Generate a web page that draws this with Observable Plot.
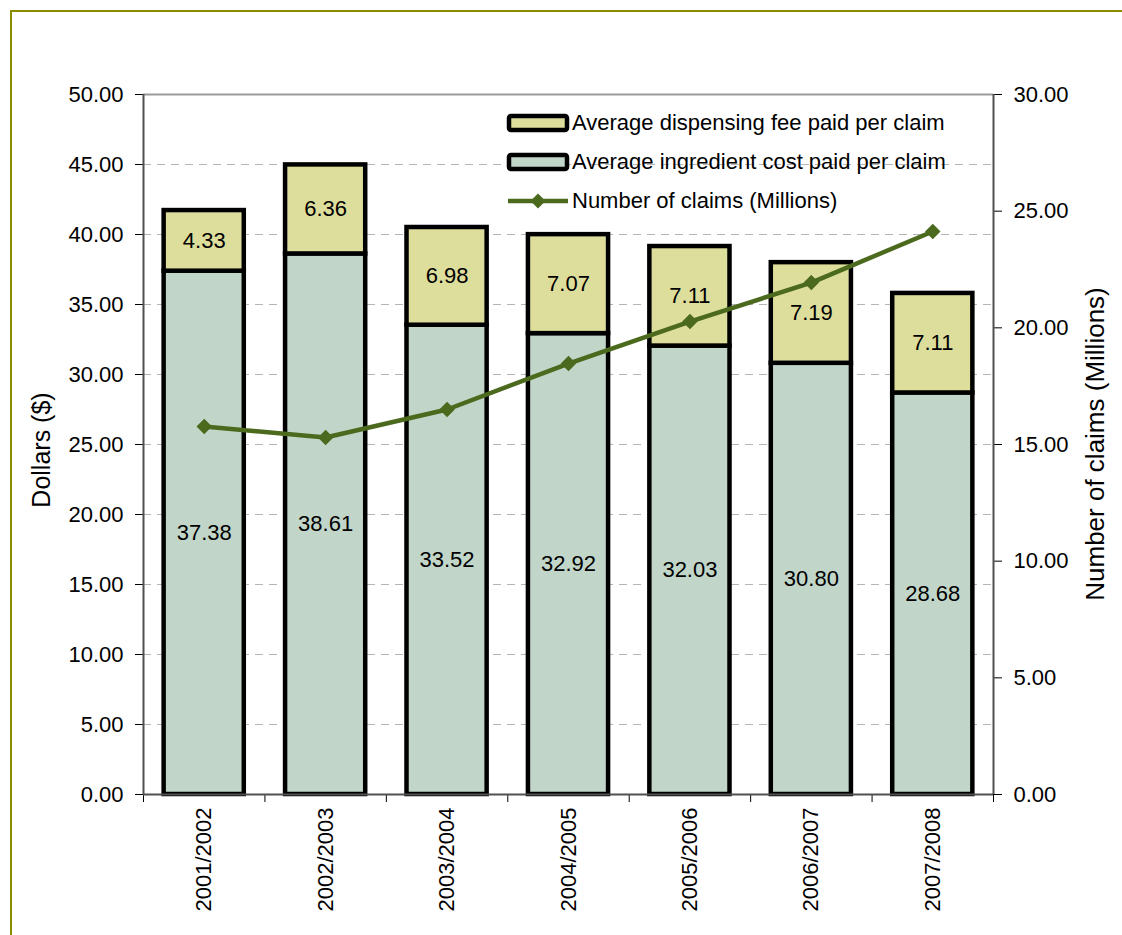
<!DOCTYPE html>
<html><head><meta charset="utf-8">
<script src="https://cdn.jsdelivr.net/npm/d3@7"></script>
<script src="https://cdn.jsdelivr.net/npm/@observablehq/plot@0.6"></script>
<style>
body{margin:0;background:#fff;font-family:"Liberation Sans",Arial,sans-serif;}
#wrap{position:relative;width:1122px;height:935px;overflow:hidden;}
#frame{position:absolute;left:10px;top:10px;width:1300px;height:1100px;border-left:2px solid #8C8C00;border-top:2px solid #8C8C00;pointer-events:none;}
#chart{position:absolute;left:0;top:0;}
#legend{position:absolute;left:506px;top:103px;font-size:22px;color:#000;}
.row{display:flex;align-items:center;height:39px;}
.row svg{margin-right:2px;}
.title{position:absolute;white-space:nowrap;transform:translate(-50%,-50%) rotate(-90deg);color:#000;line-height:1;}
</style>
</head><body>
<div id="wrap"><div id="frame"></div><div id="chart"></div><div id="legend"></div>
<div class="title" id="ytitle" style="left:41px;top:450px;font-size:25px;"></div>
<div class="title" id="y2title" style="left:1095px;top:444px;font-size:26px;"></div>
</div>
<script>
const years = ["2001/2002","2002/2003","2003/2004","2004/2005","2005/2006","2006/2007","2007/2008"];
const ingredient = [37.38,38.61,33.52,32.92,32.03,30.80,28.68];
const fee = [4.33,6.36,6.98,7.07,7.11,7.19,7.11];
const claims = [15.77,15.30,16.50,18.47,20.27,21.94,24.13];
const leftTicks = [0,5,10,15,20,25,30,35,40,45,50];
const rightTicks = [0,5,10,15,20,25,30];
const seriesNames = ["Average dispensing fee paid per claim","Average ingredient cost paid per claim","Number of claims (Millions)"];
const yTitle = "Dollars ($)";
const y2Title = "Number of claims (Millions)";

const feeColor = "#DEDE9C", ingColor = "#C1D6C9", lineColor = "#4B6A1E";
const ratio = 50/30;
const half = 0.33;

const segs = years.flatMap((yr,i)=>[
  {i, series:"ingredient", y1:0, y2:ingredient[i], v:ingredient[i]},
  {i, series:"fee", y1:ingredient[i], y2:ingredient[i]+fee[i], v:fee[i]}
]);
const pts = claims.map((c,i)=>({i, c}));

const chart = Plot.plot({
  width:1122, height:935,
  marginLeft:143, marginRight:129, marginTop:94, marginBottom:141,
  x:{type:"linear", domain:[-0.5,6.5]},
  y:{domain:[0,50]},
  style:{fontFamily:"Liberation Sans, Arial, sans-serif", fontSize:"22px", color:"#000", background:"transparent", overflow:"visible"},
  marks:[
    Plot.ruleY(leftTicks.filter(d=>d>0&&d<50), {stroke:"#b5b5b5", strokeDasharray:"8,6", strokeWidth:1}),
    Plot.ruleY([50], {stroke:"#999", strokeWidth:2}),
    Plot.rectY(segs, {x1:d=>d.i-half, x2:d=>d.i+half, y1:"y1", y2:"y2", fill:d=>d.series==="fee"?feeColor:ingColor, stroke:"#000", strokeWidth:4.5}),
    Plot.text(segs, {x:"i", y:d=>(d.y1+d.y2)/2, text:d=>d.v.toFixed(2), fontSize:22, fill:"#000"}),
    Plot.line(pts, {x:"i", y:d=>d.c*ratio, stroke:lineColor, strokeWidth:4.5}),
    Plot.dot(pts, {x:"i", y:d=>d.c*ratio, symbol:"diamond2", r:6, fill:lineColor, stroke:lineColor}),
    Plot.axisY({ticks:leftTicks, tickFormat:d=>d.toFixed(2), tickSize:8, tickPadding:12, label:null, fontSize:22}),
    Plot.axisY({anchor:"right", ticks:rightTicks.map(v=>v*ratio), tickFormat:d=>(d/ratio).toFixed(2), tickSize:8, tickPadding:12, label:null, fontSize:22}),
    Plot.ruleX([-0.5, 6.5], {stroke:"#505050", strokeWidth:2}),
    Plot.axisX({ticks:d3.range(-0.5,7,1), tickFormat:()=>"", tickSize:8, label:null}),
    Plot.axisX({ticks:d3.range(7), tickFormat:i=>years[i], tickSize:0, tickRotate:-90, tickPadding:13, label:null, fontSize:22}),
    Plot.ruleY([0], {stroke:"#505050", strokeWidth:2})
  ]
});
document.getElementById("chart").appendChild(chart);
document.getElementById("ytitle").textContent = yTitle;
document.getElementById("y2title").textContent = y2Title;

// legend
const legend = document.getElementById("legend");
const swatches = [
  `<svg width="64" height="20"><rect x="3" y="3" width="58" height="14" rx="2" fill="${feeColor}" stroke="#000" stroke-width="4.5"/></svg>`,
  `<svg width="64" height="20"><rect x="3" y="3" width="58" height="14" rx="2" fill="${ingColor}" stroke="#000" stroke-width="4.5"/></svg>`,
  `<svg width="64" height="20"><line x1="2" y1="10" x2="62" y2="10" stroke="${lineColor}" stroke-width="4.5"/><path d="M32,2.5L39.5,10L32,17.5L24.5,10Z" fill="${lineColor}"/></svg>`
];
seriesNames.forEach((n,k)=>{
  const r = document.createElement("div");
  r.className = "row";
  r.innerHTML = swatches[k] + `<span>${n}</span>`;
  legend.appendChild(r);
});
</script>
</body></html>
